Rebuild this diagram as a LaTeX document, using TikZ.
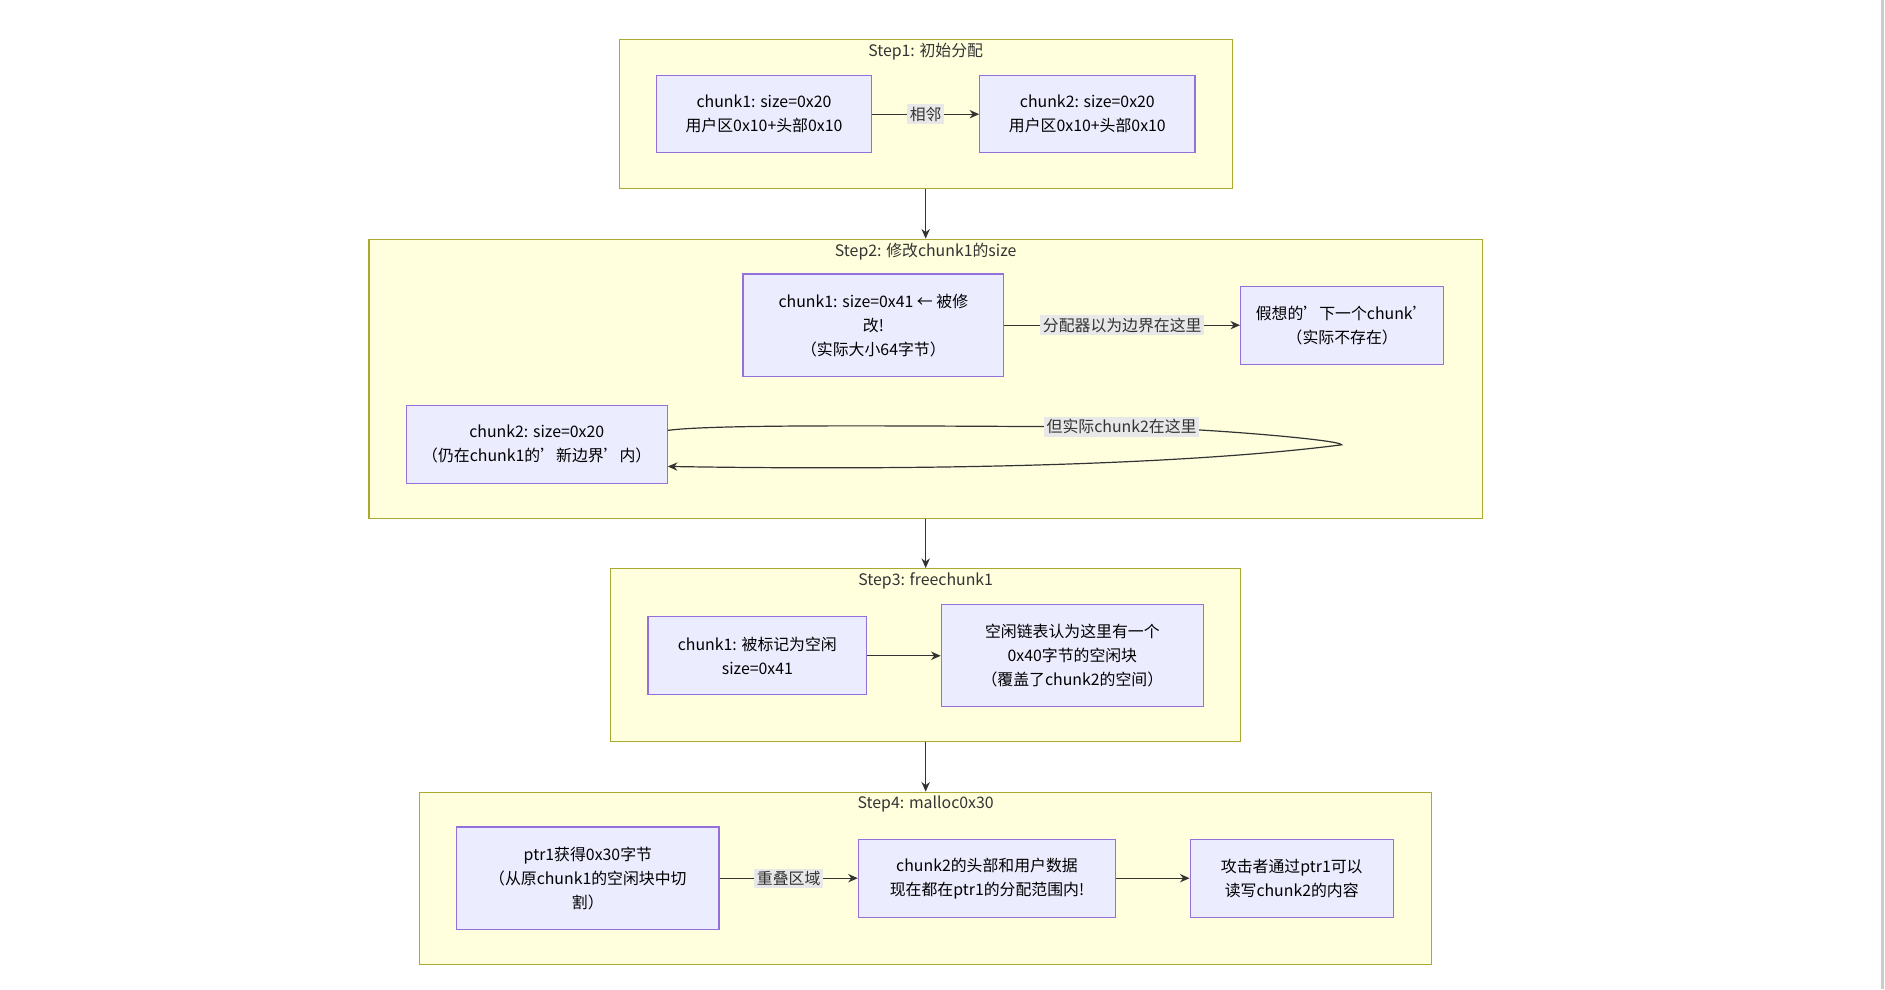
\documentclass[tikz,border=0pt]{standalone}
\usepackage{fontspec}
\setmainfont{Noto Sans CJK SC}
\usetikzlibrary{arrows.meta,positioning}
\definecolor{clfill}{HTML}{FFFFDE}
\definecolor{cldraw}{HTML}{AAAA33}
\definecolor{ndfill}{HTML}{ECECFF}
\definecolor{nddraw}{HTML}{9370DB}
\definecolor{lblbg}{HTML}{E8E8E8}
\definecolor{edge}{HTML}{333333}

\tikzset{
  cluster/.style={draw=cldraw, fill=clfill, line width=0.5pt, inner sep=0pt},
  box/.style={draw=nddraw, fill=ndfill, line width=0.5pt, align=center, inner sep=0pt,
    font=\fontsize{6.6}{10}\selectfont},
  title/.style={font=\fontsize{6.6}{9}\selectfont, text=edge},
  lbl/.style={fill=lblbg, inner sep=1pt, font=\fontsize{6.6}{9}\selectfont, text=edge},
  link/.style={draw=edge, line width=0.5pt, -{Stealth[length=4pt,width=3.5pt]}}
}

\begin{document}
\begin{tikzpicture}[x=0.5pt, y=-0.5pt]

\useasboundingbox (0,0) rectangle (1568,823);
\draw[gray!40, line width=1pt] (1566,0) -- (1566,823);

% -------- clusters -----------
\node[cluster, minimum width=255pt, minimum height=62pt] (s1) at (770,95) {};
\node[title] at (770,43) {Step1: 初始分配};
\node[cluster, minimum width=463pt, minimum height=116pt] (s2) at (770,315) {};
\node[title] at (770,209) {Step2: 修改chunk1的size};
\node[cluster, minimum width=262pt, minimum height=72pt] (s3) at (770,545) {};
\node[title] at (770,483) {Step3: freechunk1};
\node[cluster, minimum width=421pt, minimum height=71.5pt] (s4) at (770,730.5) {};
\node[title] at (770,669) {Step4: malloc0x30};

\draw[link] (s1) -- (s2);
\draw[link] (s2) -- (s3);
\draw[link] (s3) -- (s4);

% -------- step 1 -----------
\node[box, minimum width=89.5pt, minimum height=32pt] (c1a) at (635.5,95) {chunk1: size=0x20\\用户区0x10+头部0x10};
\node[box, minimum width=89.5pt, minimum height=32pt] (c2a) at (904.5,95) {chunk2: size=0x20\\用户区0x10+头部0x10};
\draw[link] (c1a) -- node[lbl] {相邻} (c2a);

% -------- step 2 -----------
\node[box, minimum width=108.5pt, minimum height=42.5pt] (c1b) at (726.5,270.5) {chunk1: size=0x41 ← 被修\\改!\\（实际大小64字节）};
\node[box, minimum width=84.5pt, minimum height=32.5pt] (fake) at (1116.5,270.5) {假想的'下一个chunk'\\（实际不存在）};
\draw[link] (c1b) -- node[lbl] {分配器以为边界在这里} (fake);
\node[box, minimum width=108.5pt, minimum height=32.5pt] (c2b) at (446.5,369.5) {chunk2: size=0x20\\（仍在chunk1的'新边界'内）};
\coordinate (turn) at (1116,370);
\draw[link] (c2b.east |- 0,358) .. controls (600,352) and (800,355) .. (933,355)
  .. controls (1000,356) and (1116,366) .. (turn)
  .. controls (1000,385) and (800,392) .. (c2b.east |- 0,388);
\node[lbl] at (933,355) {但实际chunk2在这里};

% -------- step 3 -----------
\node[box, minimum width=91pt, minimum height=32.5pt] (c1c) at (630,545.5) {chunk1: 被标记为空闲\\size=0x41};
\node[box, minimum width=109pt, minimum height=42.5pt] (freel) at (892,545.5) {空闲链表认为这里有一个\\0x40字节的空闲块\\（覆盖了chunk2的空间）};
\draw[link] (c1c) -- (freel);

% -------- step 4 -----------
\node[box, minimum width=109pt, minimum height=42.5pt] (ptr) at (489,730.5) {ptr1获得0x30字节\\（从原chunk1的空闲块中切\\割）};
\node[box, minimum width=107pt, minimum height=32.5pt] (ovl) at (821,730.5) {chunk2的头部和用户数据\\现在都在ptr1的分配范围内!};
\node[box, minimum width=84.5pt, minimum height=32.5pt] (atk) at (1074.5,730.5) {攻击者通过ptr1可以\\读写chunk2的内容};
\draw[link] (ptr) -- node[lbl] {重叠区域} (ovl);
\draw[link] (ovl) -- (atk);

\end{tikzpicture}
\end{document}
